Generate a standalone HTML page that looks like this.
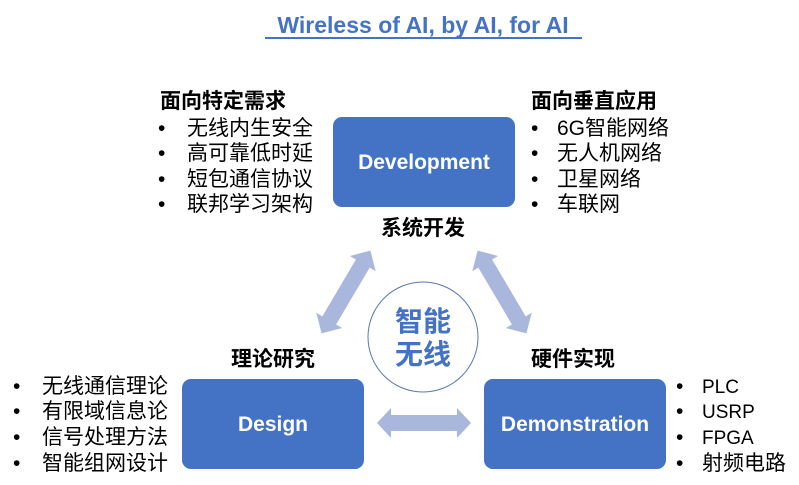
<!DOCTYPE html>
<html><head><meta charset="utf-8"><style>
html,body{margin:0;padding:0;background:#fff;}
svg{display:block;}
text{font-family:"Liberation Sans","Noto Sans CJK SC",sans-serif;}
</style></head><body>
<svg width="799" height="485" viewBox="0 0 799 485" xmlns="http://www.w3.org/2000/svg">
<text x="423" y="33" text-anchor="middle" font-size="23" font-weight="bold" fill="#4472C4">Wireless of AI, by AI, for AI</text>
<line x1="265" y1="38" x2="582" y2="38" stroke="#4472C4" stroke-width="2"/>

<g fill="#aab7dd">
<g transform="translate(346,292) rotate(-59.4)">
<polygon points="-48,0 -33,-15 -33,-8 33,-8 33,-15 48,0 33,15 33,8 -33,8 -33,15"/>
</g>
<g transform="translate(502,292) rotate(59.4)">
<polygon points="-48,0 -33,-15 -33,-8 33,-8 33,-15 48,0 33,15 33,8 -33,8 -33,15"/>
</g>
<g transform="translate(424,423)">
<polygon points="-47,0 -33,-15 -33,-8 33,-8 33,-15 47,0 33,15 33,8 -33,8 -33,15"/>
</g>
</g>

<circle cx="423" cy="337" r="55" fill="#fff" stroke="#5a76b0" stroke-width="1"/>
<text x="423" y="331" text-anchor="middle" font-size="28" font-weight="bold" fill="#4472C4">智能</text>
<text x="423" y="364" text-anchor="middle" font-size="28" font-weight="bold" fill="#4472C4">无线</text>

<rect x="333" y="117" width="182" height="90" rx="9" fill="#4472C4"/>
<text x="424" y="169" text-anchor="middle" font-size="21" font-weight="bold" fill="#fff">Development</text>
<rect x="182" y="379" width="182" height="90" rx="9" fill="#4472C4"/>
<text x="273" y="431" text-anchor="middle" font-size="21" font-weight="bold" fill="#fff">Design</text>
<rect x="484" y="379" width="182" height="90" rx="9" fill="#4472C4"/>
<text x="575" y="431" text-anchor="middle" font-size="21" font-weight="bold" fill="#fff">Demonstration</text>

<g font-size="21" fill="#000">
<text x="160" y="108" font-weight="bold">面向特定需求</text>
<text x="531" y="108" font-weight="bold">面向垂直应用</text>
<text x="423" y="235" text-anchor="middle" font-weight="bold">系统开发</text>
<text x="273" y="366" text-anchor="middle" font-weight="bold">理论研究</text>
<text x="531" y="366" font-weight="bold">硬件实现</text>

<text x="158" y="135">•</text><text x="187" y="135">无线内生安全</text>
<text x="158" y="160">•</text><text x="187" y="160">高可靠低时延</text>
<text x="158" y="186">•</text><text x="187" y="186">短包通信协议</text>
<text x="158" y="211">•</text><text x="187" y="211">联邦学习架构</text>

<text x="531" y="135">•</text><text x="557" y="135">6G智能网络</text>
<text x="531" y="160">•</text><text x="557" y="160">无人机网络</text>
<text x="531" y="186">•</text><text x="557" y="186">卫星网络</text>
<text x="531" y="211">•</text><text x="557" y="211">车联网</text>

<text x="13" y="393">•</text><text x="42" y="393">无线通信理论</text>
<text x="13" y="418">•</text><text x="42" y="418">有限域信息论</text>
<text x="13" y="444">•</text><text x="42" y="444">信号处理方法</text>
<text x="13" y="470">•</text><text x="42" y="470">智能组网设计</text>

<text x="676" y="393">•</text><text x="702" y="393" font-size="19">PLC</text>
<text x="676" y="418">•</text><text x="702" y="418" font-size="19">USRP</text>
<text x="676" y="444">•</text><text x="702" y="444" font-size="19">FPGA</text>
<text x="676" y="470">•</text><text x="702" y="470">射频电路</text>
</g>
</svg>
</body></html>
